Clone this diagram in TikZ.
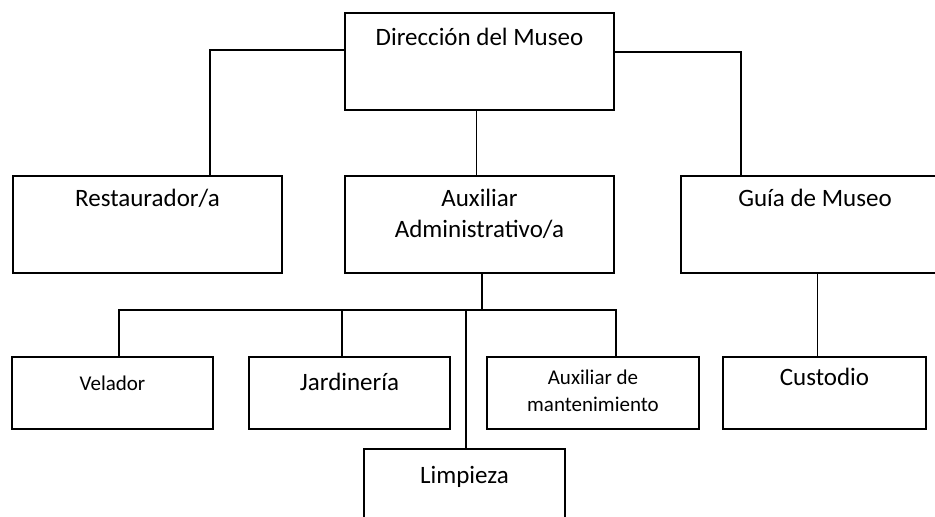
\documentclass[tikz,border=0pt]{standalone}
\usepackage{fontspec}
\setmainfont{Carlito}
\usepackage{tikz}
\usetikzlibrary{positioning, calc}

\begin{document}
\begin{tikzpicture}[
  x=1pt, y=-1pt,
  box/.style={draw, line width=2pt, inner sep=0pt, align=center},
  bigbox/.style={box, minimum width=269pt, minimum height=97pt, font=\fontsize{25}{31}\selectfont},
  lowbox/.style={box, minimum width=201pt, minimum height=72pt, font=\fontsize{25}{31}\selectfont},
  small/.style={font=\fontsize{21}{27}\selectfont},
  link/.style={line width=1.3pt}
]
  \useasboundingbox (0,0) rectangle (935,517);

  \node[bigbox, text height=33pt, text depth=64pt] (dir) at (479.5, 61) {Dirección del Museo};

  \node[bigbox, text height=30.5pt, text depth=66.5pt] (rest) at (147.5, 224.5) {Restaurador/a};
  \node[bigbox, text height=30.5pt, text depth=66.5pt] (aux) at (479.5, 224.5)
    {\begin{tabular}[t]{@{}c@{}}Auxiliar\\ Administrativo/a\end{tabular}};
  \node[bigbox, text height=30.5pt, text depth=66.5pt] (guia) at (815, 224.5) {Guía de Museo};

  \node[lowbox, small, text height=33pt, text depth=39pt] (vel) at (112.5, 393) {Velador};
  \node[lowbox, text height=33pt, text depth=39pt] (jard) at (349.5, 393) {Jardinería};
  \node[lowbox, small, minimum width=212pt, text height=27pt, text depth=45pt] (mant) at (593, 393)
    {\begin{tabular}[t]{@{}c@{}}Auxiliar de\\ mantenimiento\end{tabular}};
  \node[lowbox, minimum width=203pt, text height=28.5pt, text depth=43.5pt] (cust) at (824.5, 393) {Custodio};
  \node[lowbox, minimum height=81pt, text height=34.5pt, text depth=46.5pt] (limp) at (464.5, 489.5) {Limpieza};

  \coordinate (hub) at (482, 310);

  \draw[link] ([yshift=11pt]dir.west) -| ([xshift=62.5pt]rest.north);
  \draw[link] ([yshift=9pt]dir.east) -| ([xshift=-74pt]guia.north);
  \draw[link] ([xshift=-3pt]dir.south) -- ([xshift=-3pt]aux.north);
  \draw[link, line width=1.7pt] (aux.south -| hub) -- (hub);
  \draw[link] ([xshift=6.5pt]vel.north) |- (hub) -| ([xshift=23pt]mant.north);
  \draw[link] ([xshift=-7.5pt]jard.north) -- ([xshift=-7.5pt]jard.north |- hub);
  \draw[link, line width=1.7pt] ([xshift=1.5pt]limp.north) -- ([xshift=1.5pt]limp.north |- hub);
  \draw[link] ([xshift=2.5pt]guia.south) -- ([xshift=2.5pt]guia.south |- cust.north);
\end{tikzpicture}
\end{document}
